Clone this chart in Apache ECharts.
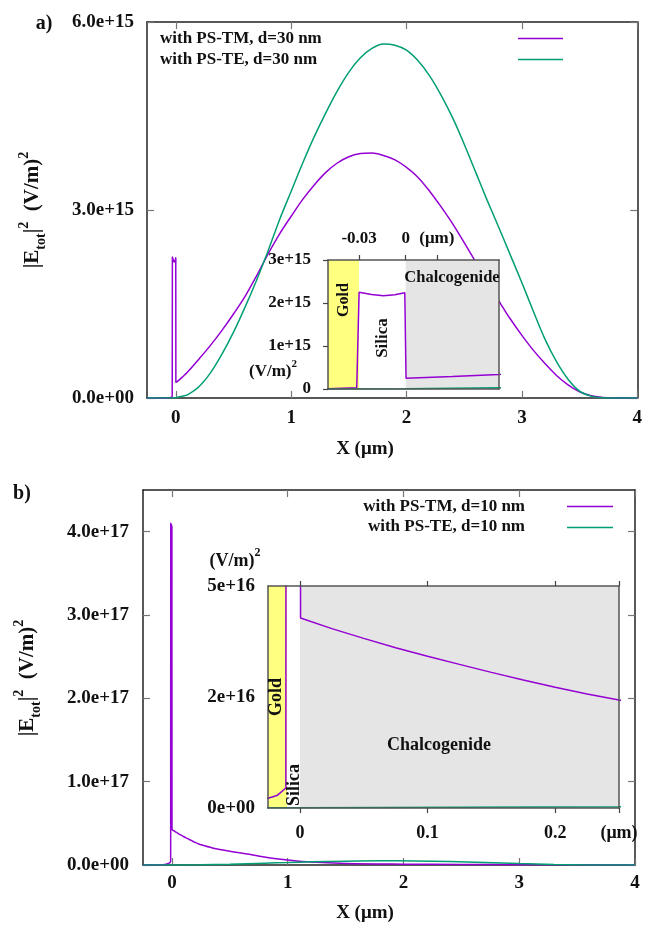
<!DOCTYPE html>
<html><head><meta charset="utf-8">
<script src="https://cdn.jsdelivr.net/npm/echarts@6/dist/echarts.min.js"></script>
<style>html,body{margin:0;padding:0;background:#fff}#c{width:645px;height:925px}</style>
</head><body><div id="c"></div>
<script>
// ---------- DATA ----------
// Panel a (d = 30 nm), values in units of 1e15 (V/m)^2
const tmA_x = [-0.25,-0.1,-0.05,-0.0315,-0.030,-0.022,-0.0144,-0.007,-0.0006,0.0002,0.03,0.06,0.1,0.2,0.3,0.4,0.5,0.6,0.7,0.8,0.9,1.0,1.1,1.2,1.3,1.4,1.5,1.6,1.7,1.8,1.9,2.0,2.1,2.2,2.3,2.4,2.5,2.6,2.7,2.8,2.9,3.0,3.1,3.2,3.3,3.4,3.5,3.6,3.7,3.8,4.0];
const tmA_e15 = [0,0.001,0.006,0.03,2.25,2.2,2.17,2.19,2.24,0.25,0.29,0.34,0.41,0.62,0.84,1.08,1.34,1.62,1.95,2.3,2.62,2.9,3.17,3.4,3.6,3.75,3.85,3.9,3.91,3.87,3.8,3.68,3.52,3.3,3.05,2.78,2.48,2.17,1.85,1.55,1.26,1.0,0.76,0.55,0.36,0.21,0.1,0.035,0.01,0.002,0];
const teA_x = [-0.25,-0.03,0,0.06,0.1,0.2,0.3,0.4,0.5,0.6,0.7,0.8,0.9,1.0,1.1,1.2,1.3,1.4,1.5,1.6,1.7,1.8,1.9,2.0,2.1,2.2,2.3,2.4,2.5,2.6,2.7,2.8,2.9,3.0,3.1,3.2,3.3,3.4,3.5,3.6,3.7,3.8,4.0];
const teA_e15 = [0,0.002,0.006,0.03,0.05,0.18,0.4,0.7,1.05,1.45,1.88,2.35,2.85,3.3,3.75,4.17,4.55,4.9,5.2,5.43,5.58,5.65,5.63,5.55,5.38,5.14,4.83,4.47,4.05,3.6,3.15,2.72,2.28,1.84,1.38,0.94,0.58,0.3,0.11,0.03,0.005,0.001,0];
// Panel b (d = 10 nm), values in units of 1e16 (V/m)^2
const tmB_x = [-0.25,-0.15,-0.08,-0.05,-0.025,-0.018,-0.011,-0.0105,-0.005,-0.0003,0.0005,0.025,0.05,0.075,0.1,0.125,0.15,0.175,0.2,0.225,0.25,0.35,0.5,0.7,0.85,1.0,1.2,1.5,2.0,2.5,3.0,3.5,4.0];
const tmB_e16 = [0,0.005,0.03,0.08,0.22,0.28,0.45,41,40.8,40.6,4.28,4.04,3.82,3.61,3.42,3.235,3.055,2.885,2.72,2.57,2.43,2.05,1.65,1.2,0.85,0.6,0.35,0.18,0.1,0.07,0.04,0.02,0];
const teB_x = [-0.25,0,0.25,0.5,0.8,1.0,1.2,1.5,1.8,2.1,2.4,2.7,3.0,3.3,3.6,3.8,4.0];
const teB_e16 = [0,0.005,0.03,0.1,0.22,0.3,0.38,0.46,0.5,0.48,0.41,0.31,0.18,0.07,0.01,0.002,0];
// Layer regions of the insets (x from, x to, name)
const layersA = [[-0.05,-0.03,'Gold'],[-0.03,0,'Silica'],[0,0.06,'Chalcogenide']];
const layersB = [[-0.025,-0.01,'Gold'],[-0.01,0,'Silica'],[0,0.25,'Chalcogenide']];
// Tick values / labels
const mainXTicks = [0,1,2,3,4];
const aYTicks = [0,3e15,6e15];
const bYTicks = [0,1e17,2e17,3e17,4e17];
const insetAXTicks = [-0.03,0,0.02];
const insetAXLabels = ['-0.03','0','(\u03bcm)'];
const insetAYTicks = [0,1e15,2e15,3e15];
const insetAYLabels = ['0','1e+15','2e+15','3e+15'];
const insetBXTicks = [0,0.1,0.2,0.25];
const insetBXLabels = ['0','0.1','0.2','(\u03bcm)'];
const insetBYTicks = [0,2.5e16,5e16];
const insetBYLabels = ['0e+00','2e+16','5e+16'];
const legendA = ['with PS-TM, d=30 nm','with PS-TE, d=30 nm'];
const legendB = ['with PS-TM, d=10 nm','with PS-TE, d=10 nm'];

// ---------- BUILD ----------
const zip = (xs, ys, s) => xs.map((x, i) => [x, ys[i] * s]);
const tmA = zip(tmA_x, tmA_e15, 1e15), teA = zip(teA_x, teA_e15, 1e15);
const tmB = zip(tmB_x, tmB_e16, 1e16), teB = zip(teB_x, teB_e16, 1e16);
const PURPLE = '#9400d3', GREEN = '#009e73';
const layerColor = {Gold:'#ffff80', Silica:'#ffffff', Chalcogenide:'#e5e5e5'};
const FF = '"Liberation Serif","DejaVu Serif",serif';

function sci(v, d) {
  if (v === 0) return (0).toFixed(d) + 'e+00';
  const e = Math.floor(Math.log10(Math.abs(v)) + 1e-9);
  const m = v / Math.pow(10, e);
  return m.toFixed(d) + 'e+' + String(e).padStart(2, '0');
}
const lab = (vals, labels) => v => { const i = vals.findIndex(t => Math.abs(t - v) < 1e-12 * Math.max(1, Math.abs(t))); return i >= 0 ? labels[i] : ''; };

const border = {show:true, onZero:false, lineStyle:{color:'#222', width:1.5}};
const inBorder = {show:true, onZero:false, lineStyle:{color:'#555', width:1.5}};
const tickIn = vals => ({show:true, inside:true, length:7, lineStyle:{color:'#777', width:1.2}, customValues: vals});
const tickOut = vals => ({show:true, inside:false, length:5, lineStyle:{color:'#444', width:1.2}, customValues: vals});
const noTick = {show:false};
const txt = (size, extra) => Object.assign({fontFamily:FF, fontWeight:'bold', fontSize:size, color:'#111'}, extra || {});

const xAxes = [
  {gridIndex:0, type:'value', position:'bottom', min:-0.25, max:4, axisLine:border, axisTick:tickIn(mainXTicks),
   axisLabel:txt(19,{customValues:mainXTicks, margin:11, formatter:v=>String(v)}), splitLine:{show:false}},
  {gridIndex:0, type:'value', position:'top', min:-0.25, max:4, axisLine:border, axisTick:tickIn(mainXTicks), axisLabel:{show:false}, splitLine:{show:false}},
  {gridIndex:1, type:'value', position:'top', min:-0.05, max:0.06, z:20, axisLine:inBorder, axisTick:tickOut(insetAXTicks),
   axisLabel:txt(17,{customValues:insetAXTicks, margin:13, formatter:lab(insetAXTicks, insetAXLabels)}), splitLine:{show:false}},
  {gridIndex:1, type:'value', position:'bottom', min:-0.05, max:0.06, z:20, axisLine:inBorder, axisTick:noTick, axisLabel:{show:false}, splitLine:{show:false}},
  {gridIndex:2, type:'value', position:'bottom', min:-0.25, max:4, axisLine:border, axisTick:tickIn(mainXTicks),
   axisLabel:txt(19,{customValues:mainXTicks, margin:9, formatter:v=>String(v)}), splitLine:{show:false}},
  {gridIndex:2, type:'value', position:'top', min:-0.25, max:4, axisLine:border, axisTick:tickIn(mainXTicks), axisLabel:{show:false}, splitLine:{show:false}},
  {gridIndex:3, type:'value', position:'bottom', min:-0.025, max:0.25, z:20, axisLine:inBorder, axisTick:tickOut(insetBXTicks),
   axisLabel:txt(18,{customValues:insetBXTicks, margin:16, formatter:lab(insetBXTicks, insetBXLabels)}), splitLine:{show:false}},
  {gridIndex:3, type:'value', position:'top', min:-0.025, max:0.25, z:20, axisLine:inBorder, axisTick:tickOut(insetBXTicks), axisLabel:{show:false}, splitLine:{show:false}}
];
const yAxes = [
  {gridIndex:0, type:'value', position:'left', min:0, max:6e15, axisLine:border, axisTick:tickIn(aYTicks),
   axisLabel:txt(19,{customValues:aYTicks, margin:13, formatter:v=>sci(v,1)}), splitLine:{show:false}},
  {gridIndex:0, type:'value', position:'right', min:0, max:6e15, axisLine:border, axisTick:tickIn(aYTicks), axisLabel:{show:false}, splitLine:{show:false}},
  {gridIndex:1, type:'value', position:'left', min:0, max:3e15, z:20, axisLine:inBorder, axisTick:tickOut(insetAYTicks),
   axisLabel:txt(17,{customValues:insetAYTicks, margin:17, formatter:lab(insetAYTicks, insetAYLabels)}), splitLine:{show:false}},
  {gridIndex:1, type:'value', position:'right', min:0, max:3e15, z:20, axisLine:inBorder, axisTick:noTick, axisLabel:{show:false}, splitLine:{show:false}},
  {gridIndex:2, type:'value', position:'left', min:0, max:4.5e17, axisLine:border, axisTick:tickIn(bYTicks),
   axisLabel:txt(19,{customValues:bYTicks, margin:14, formatter:v=>sci(v,1)}), splitLine:{show:false}},
  {gridIndex:2, type:'value', position:'right', min:0, max:4.5e17, axisLine:border, axisTick:tickIn(bYTicks), axisLabel:{show:false}, splitLine:{show:false}},
  {gridIndex:3, type:'value', position:'left', min:0, max:5e16, z:20, axisLine:inBorder, axisTick:noTick,
   axisLabel:txt(19,{customValues:insetBYTicks, margin:13, formatter:lab(insetBYTicks, insetBYLabels)}), splitLine:{show:false}},
  {gridIndex:3, type:'value', position:'right', min:0, max:5e16, z:20, axisLine:inBorder, axisTick:noTick, axisLabel:{show:false}, splitLine:{show:false}}
];

const line = (data, color, xi, yi, z, smooth) => ({type:'line', data, xAxisIndex:xi, yAxisIndex:yi, z, showSymbol:false, symbol:'none',
  smooth:smooth, clip:true, lineStyle:{color, width:1.5}, itemStyle:{color}, animation:false});
const bg = (layers, xi, yi, yTop) => ({type:'custom', xAxisIndex:xi, yAxisIndex:yi, z:5, animation:false, clip:true,
  data: layers.map(l => ({value:[l[0], l[1]], itemStyle:{color:layerColor[l[2]]}})),
  renderItem: (params, api) => {
    const a = api.coord([api.value(0), yTop]);
    const b = api.coord([api.value(1), 0]);
    return {type:'rect', shape:{x:a[0], y:a[1], width:b[0]-a[0], height:b[1]-a[1]}, style:{fill:api.visual('color')}};
  }});

const T = (text, x, y, size, opts) => Object.assign({type:'text', x, y, z:100, style:Object.assign({text, fontFamily:FF, fontWeight:'bold', fontSize:size, fill:'#111',
  align:'center', verticalAlign:'middle', textAlign:'center', textVerticalAlign:'middle'}, (opts && opts.style) || {})}, (opts && opts.el) || {});
const richBase = size => ({
  m:{fontFamily:FF, fontWeight:'bold', fontSize:size, fill:'#111', color:'#111', lineHeight:size+10, verticalAlign:'middle'},
  s:{fontFamily:FF, fontWeight:'bold', fontSize:Math.round(size*0.65), fill:'#111', color:'#111', lineHeight:Math.round(size*0.65), verticalAlign:'bottom'},
  p:{fontFamily:FF, fontWeight:'bold', fontSize:Math.round(size*0.65), fill:'#111', color:'#111', lineHeight:Math.round(size*0.65), verticalAlign:'top'}
});
const ytitle = '{m||E}{s|tot}{m||}{p|2}{m|  (V/m)}{p|2}';
const R = Math.PI / 2;

const graphics = [
  T('a)', 44, 24, 20),
  T('b)', 22, 494, 20),
  T(legendA[0], 160, 39, 17, {style:{align:'left', textAlign:'left'}}),
  T(legendA[1], 160, 60, 17, {style:{align:'left', textAlign:'left'}}),
  {type:'line', z:100, shape:{x1:518, y1:38.5, x2:563, y2:38.5}, style:{stroke:PURPLE, lineWidth:1.5}},
  {type:'line', z:100, shape:{x1:518, y1:59.5, x2:563, y2:59.5}, style:{stroke:GREEN, lineWidth:1.5}},
  T(legendB[0], 525, 507, 17, {style:{align:'right', textAlign:'right'}}),
  T(legendB[1], 525, 527, 17, {style:{align:'right', textAlign:'right'}}),
  {type:'line', z:100, shape:{x1:567, y1:506.5, x2:613, y2:506.5}, style:{stroke:PURPLE, lineWidth:1.5}},
  {type:'line', z:100, shape:{x1:567, y1:527.5, x2:613, y2:527.5}, style:{stroke:GREEN, lineWidth:1.5}},
  T(ytitle, 33, 210, 21, {style:{rich:richBase(21)}, el:{rotation:R}}),
  T(ytitle, 28, 678, 21, {style:{rich:richBase(21)}, el:{rotation:R}}),
  T('X (\u03bcm)', 365, 449, 19),
  T('X (\u03bcm)', 365, 913, 19),
  // inset a
  T('{m|(V/m)}{p|2}', 297, 372, 17, {style:{rich:richBase(17), align:'right', textAlign:'right'}}),
  T('Gold', 344, 300, 16, {el:{rotation:R}}),
  T('Silica', 383, 338, 17, {el:{rotation:R}}),
  T('Chalcogenide', 452, 278, 16.5),
  // inset b
  T('{m|(V/m)}{p|2}', 235, 561, 18, {style:{rich:richBase(18)}}),
  T('Gold', 276, 697, 18, {el:{rotation:R}}),
  T('Silica', 294, 785, 18, {el:{rotation:R}}),
  T('Chalcogenide', 439, 745, 18)
];

const option = {
  animation:false,
  backgroundColor:'#fff',
  grid:[
    {left:147, top:22, width:492, height:376},
    {left:328, top:260, width:171, height:129},
    {left:143, top:490, width:492, height:375},
    {left:268, top:586, width:351, height:222}
  ],
  xAxis:xAxes,
  yAxis:yAxes,
  series:[
    line(tmA, PURPLE, 0, 0, 2, 0.35),
    line(teA, GREEN, 0, 0, 2, 0.35),
    line(tmB, PURPLE, 4, 4, 2, 0.35),
    line(teB, GREEN, 4, 4, 2, 0.35),
    bg(layersA, 2, 2, 3e15),
    line(tmA, PURPLE, 2, 2, 6, false),
    line(teA, GREEN, 2, 2, 6, false),
    bg(layersB, 6, 6, 5e16),
    line(tmB, PURPLE, 6, 6, 6, false),
    line(teB, GREEN, 6, 6, 6, false)
  ],
  graphic:graphics
};
const chart = echarts.init(document.getElementById('c'), null, {renderer:'canvas'});
chart.setOption(option);
</script>
</body></html>
